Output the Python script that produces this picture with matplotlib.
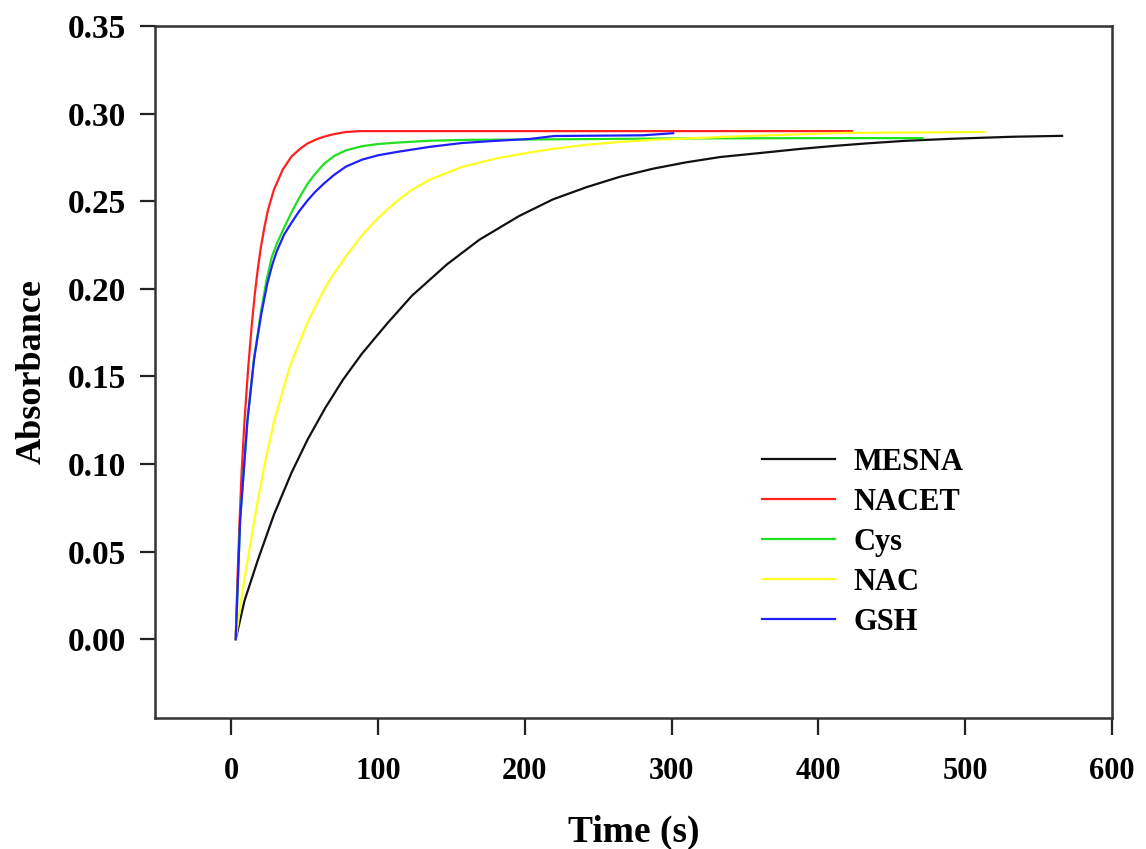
import matplotlib
matplotlib.use("Agg")
import matplotlib.pyplot as plt

# ---- data ----
mesna_t = [3, 9, 18, 29, 41, 52, 64, 76, 89, 106, 123, 147, 169, 196, 219, 242,
           265, 287, 310, 333, 365, 387, 410, 433, 460, 490, 533, 566]
mesna_y = [0.000, 0.022, 0.045, 0.071, 0.095, 0.114, 0.132, 0.148, 0.163, 0.180,
           0.196, 0.214, 0.228, 0.2415, 0.251, 0.258, 0.264, 0.2685, 0.2722, 0.2752,
           0.2779, 0.2798, 0.2815, 0.2830, 0.2845, 0.2856, 0.2868, 0.2873]

nacet_t = [3, 4, 5.5, 7, 9, 11.5, 14, 16, 18, 20, 22.5, 25, 29, 35, 41, 47, 52,
           58, 63, 70, 78, 88, 423]
nacet_y = [0.000, 0.030, 0.065, 0.095, 0.125, 0.155, 0.180, 0.197, 0.211, 0.223,
           0.235, 0.245, 0.2565, 0.268, 0.2755, 0.2800, 0.2830, 0.2853, 0.2868,
           0.2883, 0.2895, 0.2900, 0.2900]

cys_t = [3, 6, 11, 15.5, 20, 24, 27.5, 31, 36, 41, 46, 52, 57, 63, 70, 78, 89,
         100, 112, 135, 160, 200, 250, 300, 400, 471]
cys_y = [0.000, 0.068, 0.125, 0.160, 0.186, 0.205, 0.218, 0.2257, 0.2350, 0.2436,
         0.2515, 0.2600, 0.2655, 0.2712, 0.2758, 0.2790, 0.2814, 0.2826, 0.2834,
         0.2845, 0.2850, 0.2852, 0.2855, 0.2858, 0.2860, 0.2860]

nac_t = [3, 7.5, 15.7, 22, 29.3, 40, 52, 60, 67, 78, 89, 100, 112, 123, 135, 157,
         181, 203, 219, 242, 264, 287, 333, 380, 420, 513]
nac_y = [0.000, 0.027, 0.068, 0.097, 0.125, 0.156, 0.181, 0.1945, 0.205, 0.2185,
         0.2305, 0.2405, 0.2495, 0.2565, 0.2622, 0.2695, 0.2745, 0.2778, 0.2798,
         0.2822, 0.2838, 0.2850, 0.2866, 0.2880, 0.2890, 0.2895]

gsh_t = [3, 6, 11, 15.5, 20.5, 24.5, 28, 31, 36, 41, 46, 52, 57, 63, 70, 78, 89,
         100, 112, 135, 157, 181, 203, 220, 280, 296, 301]
gsh_y = [0.000, 0.068, 0.125, 0.160, 0.186, 0.203, 0.214, 0.2215, 0.2310, 0.2377,
         0.2440, 0.2505, 0.2552, 0.2600, 0.2650, 0.2697, 0.2737, 0.2762, 0.2780,
         0.2810, 0.2832, 0.2845, 0.2855, 0.2872, 0.2876, 0.2885, 0.2888]

labels = ["MESNA", "NACET", "Cys", "NAC", "GSH"]
colors = ["#111111", "#ff2020", "#20e020", "#ffff20", "#2020ff"]
x_ticks = [0, 100, 200, 300, 400, 500, 600]
y_ticks = [0.00, 0.05, 0.10, 0.15, 0.20, 0.25, 0.30, 0.35]

plt.rcParams['font.family'] = ['Liberation Serif', 'DejaVu Serif']
plt.rcParams['font.weight'] = 'bold'

fig = plt.figure(figsize=(11.46, 8.49), dpi=100)
ax = fig.add_axes([155/1146, 1-718/849, (1112-155)/1146, (718-26)/849])

series = [(mesna_t, mesna_y), (nacet_t, nacet_y), (cys_t, cys_y),
          (nac_t, nac_y), (gsh_t, gsh_y)]
for (t, y), lab, c in zip(series, labels, colors):
    ax.plot(t, y, color=c, lw=1.6, label=lab, solid_joinstyle='round')

ax.set_xlim(-52, 600)
ax.set_ylim(-0.045, 0.35)
ax.set_xticks(x_ticks)
ax.set_yticks(y_ticks)
ax.set_xticklabels([str(v) for v in x_ticks], fontsize=22, fontweight='bold')
ax.set_yticklabels([f"{v:.2f}" for v in y_ticks], fontsize=24, fontweight='bold')
ax.tick_params(axis='x', direction='out', length=12, width=1.6, pad=16,
               colors='#222222', labelcolor='black')
ax.tick_params(axis='y', direction='out', length=11, width=1.6, pad=10,
               colors='#222222', labelcolor='black')
for s in ax.spines.values():
    s.set_linewidth(1.8)
    s.set_color('#333333')

ax.set_xlabel("Time (s)", fontsize=27, fontweight='bold', labelpad=21)
ax.set_ylabel("Absorbance", fontsize=26, fontweight='bold', labelpad=14)

leg = ax.legend(loc='upper left', bbox_to_anchor=(0.634, 0.39), frameon=False,
                fontsize=22, handlelength=2.4, handletextpad=0.6,
                labelspacing=0.36, borderpad=0, borderaxespad=0)
for txt in leg.get_texts():
    txt.set_fontweight('bold')

fig.savefig("out.png", dpi=100)
